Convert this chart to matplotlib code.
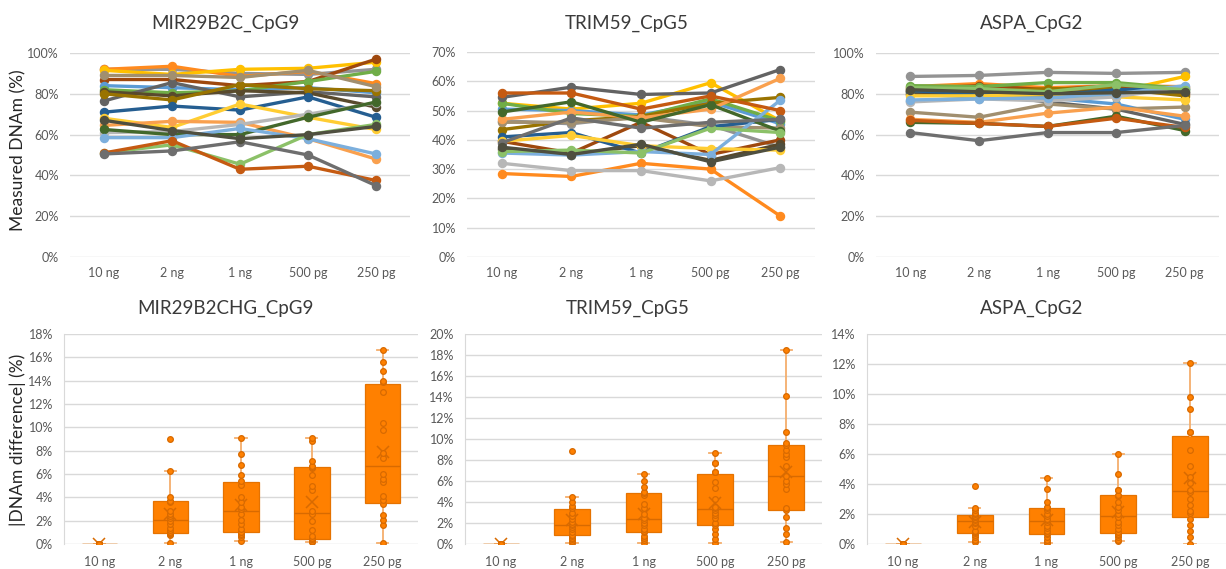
import numpy as np
import matplotlib
matplotlib.use("Agg")
import matplotlib.pyplot as plt
from matplotlib.ticker import MultipleLocator, FuncFormatter

plt.rcParams['font.family'] = ['Lato', 'DejaVu Sans']

# ---------------------------------------------------------------- data
doses = ['10 ng', '2 ng', '1 ng', '500 pg', '250 pg']

# one colour per sample line (same order in every gene panel)
series_colors = ['#939393', '#FF8A1E', '#FFC000', '#9E480E', '#5B9BD5',
                 '#70AD47', '#636363', '#594A2C', '#997300', '#A18F6F',
                 '#255E91', '#FFCD33', '#F9A04E', '#B7B7B7', '#43682B',
                 '#7CAFDD', '#8CC168', '#C55A11', '#6E6E6E', '#4F4F3F']

# measured DNAm (%) per sample across input amounts
mir_measured = [
    [92, 92, 90, 89.5, 92],
    [92, 93.5, 88.5, 91, 85],
    [91.5, 89.5, 92, 92.5, 95.5],
    [87, 87, 84, 86, 97],
    [84, 83, 82, 83, 80.5],
    [82, 80.5, 81.5, 86, 91],
    [76.5, 85.5, 78.5, 81, 78.5],
    [81, 79, 81.5, 80.5, 73.5],
    [80, 77, 84.5, 82.5, 81.5],
    [89, 89, 88, 91.5, 83.5],
    [71, 74, 72, 78.5, 68.5],
    [68, 63.5, 75, 68.5, 62.5],
    [64.5, 66.5, 66, 58, 48],
    [61, 61.5, 65, 70, 75.5],
    [62.5, 60, 60, 68.5, 76],
    [58.5, 58.5, 63, 58, 50.5],
    [51, 55, 45.5, 60, 65],
    [51, 57, 43, 44.5, 37.5],
    [50.5, 52, 56.5, 50, 35],
    [67, 62, 58, 60, 64],
]

trim_measured = [
    [46.5, 45.5, 48, 45, 37.5],
    [28.5, 27.5, 32, 30, 14],
    [52.5, 50.5, 52.5, 59.5, 46.5],
    [39.5, 35.5, 46, 35, 40],
    [50.5, 50, 48.5, 53, 45.5],
    [52.5, 49, 48, 54, 46.5],
    [54.5, 58, 55.5, 56, 64],
    [37, 35, 38, 33, 38.5],
    [43.5, 46.5, 48, 52.5, 54.5],
    [46, 46, 47.5, 44.5, 44],
    [41, 42.5, 35.5, 44.5, 47],
    [39.5, 41.5, 38, 37, 36.5],
    [47, 49.5, 47.5, 50.5, 61],
    [32, 29.5, 29.5, 26, 30.5],
    [49.5, 53, 46, 52, 43],
    [35.5, 34.8, 36, 35, 53.5],
    [36, 36.5, 35.5, 44, 42.5],
    [56, 56, 50.5, 55, 50],
    [39, 47.5, 44, 46, 47],
    [37.5, 35, 38.5, 32.5, 37.5],
]

aspa_measured = [
    [88.5, 89, 90.5, 90, 90.5],
    [83.5, 85, 83, 84, 83.5],
    [80, 82, 77, 81, 88.5],
    [82.5, 84, 82, 84, 80],
    [76.5, 78, 78, 75, 67.5],
    [84, 83.5, 85.5, 85.5, 82.5],
    [80, 80, 76, 72.5, 65],
    [81, 80, 80.5, 81.5, 81],
    [81.5, 81, 82.5, 82.5, 79],
    [71, 68.5, 75, 72.5, 73.5],
    [81.5, 80, 79, 82, 82.5],
    [79, 79, 79.5, 78.5, 77],
    [67.5, 66, 70.5, 73.5, 69],
    [76, 77.5, 76.5, 78.5, 83.5],
    [66, 65.5, 64, 69, 62],
    [77, 77.5, 78, 80, 84],
    [83, 82.5, 81, 84.5, 82],
    [67, 65.5, 64, 68, 63.5],
    [61, 57, 61, 61, 64.5],
    [82, 81, 80, 80.5, 81],
]

# |DNAm difference| (%) relative to 10 ng, per input amount
mir_diff = [
    [0.0] * 20,
    [0.1, 0.8, 0.9, 0.95, 0.95, 1.0, 1.2, 1.4, 1.7, 2.0, 2.2, 2.4, 2.6, 2.8, 3.6, 3.7, 3.7, 4.05, 6.3, 9.0],
    [0.25, 0.6, 0.8, 0.9, 1.0, 1.05, 1.3, 1.7, 2.1, 2.6, 3.0, 3.2, 3.6, 4.0, 5.1, 5.4, 5.95, 6.75, 7.7, 9.1],
    [0.2, 0.25, 0.3, 0.4, 0.45, 0.5, 0.7, 1.2, 2.0, 2.6, 2.8, 4.6, 5.0, 5.9, 6.5, 6.6, 6.7, 7.1, 8.8, 9.1],
    [0.1, 1.6, 2.1, 2.5, 3.4, 3.8, 4.1, 5.3, 5.6, 6.0, 7.4, 7.8, 9.8, 10.4, 13.0, 13.9, 14.0, 14.8, 15.6, 16.6],
]

trim_diff = [
    [0.0] * 20,
    [0.1, 0.3, 0.5, 0.6, 0.8, 0.9, 1.1, 1.4, 1.6, 1.8, 1.9, 2.1, 2.4, 2.7, 3.0, 3.4, 3.6, 4.0, 4.5, 8.9],
    [0.05, 0.4, 0.6, 0.8, 1.1, 1.2, 1.4, 1.8, 2.0, 2.3, 2.5, 2.9, 3.4, 3.8, 4.7, 4.85, 5.0, 5.4, 6.0, 6.7],
    [0.1, 0.5, 1.0, 1.4, 1.8, 2.0, 2.5, 2.8, 3.0, 3.2, 3.4, 3.5, 4.3, 5.3, 5.9, 6.9, 6.9, 7.7, 7.7, 8.65],
    [0.15, 1.0, 1.5, 2.6, 3.25, 3.4, 5.2, 5.7, 6.0, 6.5, 7.4, 8.3, 8.6, 9.0, 9.45, 9.6, 10.7, 14.1, 18.5],
]

aspa_diff = [
    [0.0] * 20,
    [0.15, 0.3, 0.5, 0.6, 0.75, 0.8, 0.9, 1.2, 1.4, 1.5, 1.6, 1.7, 1.8, 1.8, 1.85, 2.0, 2.1, 2.3, 2.4, 3.85],
    [0.1, 0.15, 0.3, 0.5, 0.65, 0.75, 0.9, 1.1, 1.2, 1.5, 1.6, 1.7, 1.9, 2.0, 2.3, 2.4, 2.45, 2.8, 3.7, 4.4],
    [0.2, 0.3, 0.45, 0.6, 0.7, 0.8, 1.0, 1.3, 1.5, 1.8, 2.0, 2.3, 2.5, 2.8, 3.2, 3.3, 3.6, 3.6, 4.7, 6.0],
    [0.0, 0.5, 0.9, 1.3, 1.7, 2.1, 2.2, 2.6, 3.0, 3.5, 3.6, 4.1, 4.5, 5.2, 6.3, 7.5, 7.5, 9.0, 9.8, 12.1],
]

# ---------------------------------------------------------------- layout
W, H = 1226, 569
fig = plt.figure(figsize=(W / 100, H / 100), dpi=100)

GRID = '#D9D9D9'
TICK = '#595959'
TITLE = '#3A3A3A'


def px_axes(x0, y0, x1, y1):
    return fig.add_axes([x0 / W, 1 - y1 / H, (x1 - x0) / W, (y1 - y0) / H])


def pct(v, _pos):
    return f'{v:.0f}%'


def style_axes(ax, ymax, step, left_spine, xpad):
    ax.set_xlim(-0.5, len(doses) - 0.5)
    ax.set_ylim(0, ymax)
    ax.yaxis.set_major_locator(MultipleLocator(step))
    ax.yaxis.set_major_formatter(FuncFormatter(pct))
    ax.set_xticks(range(len(doses)))
    ax.set_xticklabels(doses)
    ax.yaxis.grid(True, color=GRID, lw=1.0)
    ax.set_axisbelow(True)
    for side, sp in ax.spines.items():
        sp.set_visible(side == 'left' and left_spine)
        sp.set_color(GRID)
    ax.tick_params(axis='both', length=0, labelsize=9, labelcolor=TICK)
    ax.tick_params(axis='y', pad=8)
    ax.tick_params(axis='x', pad=xpad)


def line_panel(ax, data, ymax, step):
    x = np.arange(len(doses))
    for vals, col in zip(data, series_colors):
        ax.plot(x, vals, color=col, lw=2.4, marker='o', ms=5.8,
                mfc=col, mec=col, solid_capstyle='round')
    style_axes(ax, ymax, step, left_spine=False, xpad=7)


def box_stats(vals):
    v = np.asarray(vals, float)
    q1, med, q3 = np.percentile(v, [25, 50, 75], method='weibull')
    iqr = q3 - q1
    lo = v[v >= q1 - 1.5 * iqr].min()
    hi = v[v <= q3 + 1.5 * iqr].max()
    return dict(med=med, q1=q1, q3=q3, whislo=lo, whishi=hi,
                mean=v.mean(), fliers=[])


def box_panel(ax, groups, ymax, step):
    stats = [box_stats(g) for g in groups]
    ax.bxp(stats, positions=range(len(groups)), widths=0.5,
           patch_artist=True, showmeans=True, showfliers=False,
           capwidths=0.16,
           boxprops=dict(facecolor='#FF8000', edgecolor='#E57200', lw=0.9),
           whiskerprops=dict(color='#F4AE6C', lw=1.3),
           capprops=dict(color='#F4AE6C', lw=1.3),
           medianprops=dict(color='#D86A00', lw=1.0),
           meanprops=dict(marker='x', markeredgecolor='#D86A00',
                          markersize=8, markeredgewidth=1.1))
    for i, g in enumerate(groups):
        ax.plot(np.full(len(g), i), g, 'o', ms=4.1, mfc='#FF8000',
                mec='#D86A00', mew=0.9, zorder=4)
    style_axes(ax, ymax, step, left_spine=True, xpad=9)


# top row: measured DNAm
ax1 = px_axes(70, 53, 410, 257)
line_panel(ax1, mir_measured, 100, 20)
ax2 = px_axes(467, 52, 815, 257)
line_panel(ax2, trim_measured, 70, 10)
ax3 = px_axes(876, 53, 1219, 257)
line_panel(ax3, aspa_measured, 100, 20)

# bottom row: absolute DNAm difference
ax4 = px_axes(64, 334, 418, 544)
box_panel(ax4, mir_diff, 18, 2)
ax5 = px_axes(465, 334, 822, 544)
box_panel(ax5, trim_diff, 20, 2)
ax6 = px_axes(867, 334, 1226, 544)
box_panel(ax6, aspa_diff, 14, 2)

# titles
for (cx, cy, txt) in [(225, 23, 'MIR29B2C_CpG9'), (627, 23, 'TRIM59_CpG5'),
                      (1032, 23, 'ASPA_CpG2'), (225, 308, 'MIR29B2CHG_CpG9'),
                      (628, 308, 'TRIM59_CpG5'), (1032, 308, 'ASPA_CpG2')]:
    fig.text(cx / W, 1 - cy / H, txt, ha='center', va='center',
             fontsize=13.5, color=TITLE)

# y-axis captions
fig.text(18 / W, 1 - 150 / H, 'Measured DNAm (%)', rotation=90,
         ha='center', va='center', fontsize=12.5, color='#262626')
fig.text(18 / W, 1 - 440 / H, '|DNAm difference| (%)', rotation=90,
         ha='center', va='center', fontsize=12.5, color='#262626')

fig.savefig('out.png', dpi=100, facecolor='white')
